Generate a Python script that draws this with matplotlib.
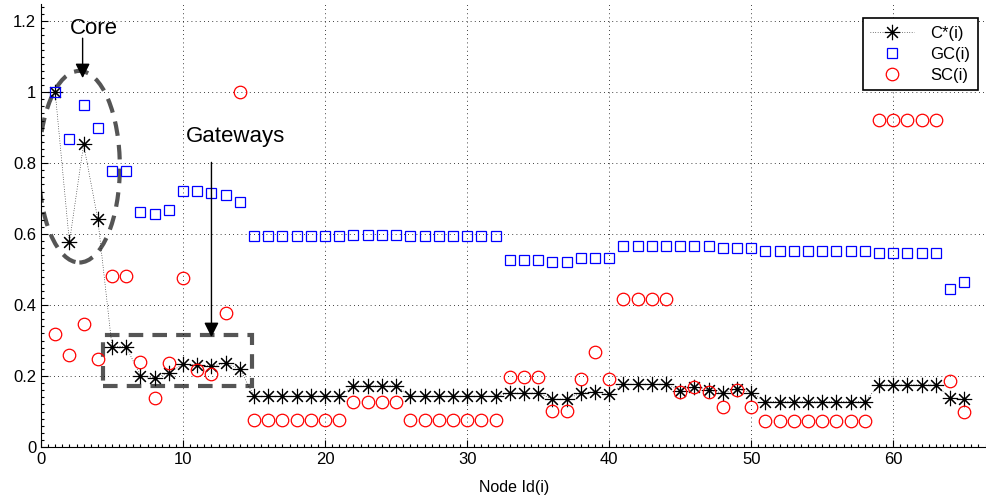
import matplotlib
matplotlib.use("Agg")
import matplotlib.pyplot as plt
from matplotlib.patches import Ellipse, Rectangle
from matplotlib.ticker import MultipleLocator

plt.rcParams['font.family'] = ['Liberation Sans', 'DejaVu Sans']

# node ids
nodes = list(range(1, 66))

# C*(i)
c_star = [1.0, 0.577, 0.853, 0.642, 0.283, 0.283, 0.200, 0.195, 0.208, 0.234,
          0.231, 0.228, 0.236, 0.220,
          0.143, 0.143, 0.143, 0.143, 0.143, 0.143, 0.143,
          0.172, 0.172, 0.172, 0.172,
          0.143, 0.143, 0.143, 0.143, 0.143, 0.143, 0.143,
          0.152, 0.152, 0.152, 0.135, 0.135, 0.152, 0.156, 0.149,
          0.177, 0.177, 0.177, 0.177, 0.159, 0.169, 0.161, 0.152, 0.163, 0.153,
          0.128, 0.128, 0.128, 0.128, 0.128, 0.128, 0.128, 0.128,
          0.175, 0.175, 0.175, 0.175, 0.175, 0.139, 0.134]

# GC(i)
gc = [1.0, 0.868, 0.964, 0.899, 0.779, 0.779, 0.662, 0.656, 0.668, 0.721,
      0.721, 0.716, 0.710, 0.691,
      0.594, 0.594, 0.594, 0.594, 0.594, 0.594, 0.594,
      0.597, 0.597, 0.597, 0.597,
      0.594, 0.594, 0.594, 0.594, 0.594, 0.594, 0.594,
      0.527, 0.527, 0.527, 0.522, 0.522, 0.533, 0.533, 0.533,
      0.567, 0.567, 0.567, 0.567, 0.567, 0.567, 0.567, 0.560, 0.560, 0.560,
      0.553, 0.553, 0.553, 0.553, 0.553, 0.553, 0.553, 0.553,
      0.548, 0.548, 0.548, 0.548, 0.548, 0.444, 0.466]

# SC(i)
sc = [0.318, 0.259, 0.348, 0.248, 0.483, 0.483, 0.240, 0.139, 0.236, 0.477,
      0.217, 0.205, 0.377, 1.0,
      0.076, 0.076, 0.076, 0.076, 0.076, 0.076, 0.076,
      0.126, 0.126, 0.126, 0.126,
      0.076, 0.076, 0.076, 0.076, 0.076, 0.076, 0.076,
      0.198, 0.198, 0.198, 0.101, 0.101, 0.192, 0.269, 0.192,
      0.416, 0.416, 0.416, 0.416, 0.154, 0.170, 0.154, 0.114, 0.161, 0.114,
      0.074, 0.074, 0.074, 0.074, 0.074, 0.074, 0.074, 0.074,
      0.921, 0.921, 0.921, 0.921, 0.921, 0.187, 0.099]

fig = plt.figure(figsize=(9.87, 4.99), dpi=100)
ax = fig.add_axes([41 / 987, 1 - 447 / 499, 946 / 987, 443.5 / 499])

ast = (8, 2, 0)
ax.plot(nodes, c_star, color='k', linestyle=(0, (1, 2.5)), linewidth=0.5,
        marker=ast, markersize=11, markeredgewidth=0.8, label='C*(i)')
ax.plot(nodes, gc, linestyle='none', marker='s', markersize=7.2,
        markerfacecolor='none', markeredgecolor='b', markeredgewidth=0.9,
        label='GC(i)')
ax.plot(nodes, sc, linestyle='none', marker='o', markersize=9,
        markerfacecolor='none', markeredgecolor='r', markeredgewidth=0.9,
        label='SC(i)')

# annotations
ax.add_patch(Ellipse((2.7, 0.79), 5.7, 0.54, fill=False, edgecolor='#555555',
                     linewidth=3, linestyle=(0, (3.5, 2.2))))
ax.add_patch(Rectangle((4.4, 0.172), 10.45, 0.143, fill=False,
                       edgecolor='#555555', linewidth=3,
                       linestyle=(0, (3.5, 2.2))))
ax.text(3.7, 1.18, 'Core', fontsize=16, ha='center', va='center')
ax.annotate('', xy=(2.93, 1.032), xytext=(2.93, 1.16),
            arrowprops=dict(arrowstyle='-|>', color='k', lw=1,
                            mutation_scale=22))
ax.text(13.7, 0.876, 'Gateways', fontsize=16, ha='center', va='center')
ax.annotate('', xy=(12.0, 0.302), xytext=(12.0, 0.81),
            arrowprops=dict(arrowstyle='-|>', color='k', lw=1,
                            mutation_scale=22))

ax.set_xlim(0, 66.6)
ax.set_ylim(0, 1.25)
ax.set_xticks([0, 10, 20, 30, 40, 50, 60])
ax.set_yticks([0, 0.2, 0.4, 0.6, 0.8, 1.0, 1.2])
ax.set_yticklabels(['0', '0.2', '0.4', '0.6', '0.8', '1', '1.2'])
ax.xaxis.set_minor_locator(MultipleLocator(0.5))
ax.yaxis.set_minor_locator(MultipleLocator(0.02))
ax.tick_params(which='both', direction='in', labelsize=12, width=0.8)
ax.tick_params(which='major', length=5)
ax.tick_params(which='minor', length=2)
ax.grid(True, which='major', linestyle=(0, (1, 4)), color='k', linewidth=0.6)
for s in ['top', 'right']:
    ax.spines[s].set_visible(False)
ax.set_xlabel('Node Id(i)', fontsize=11.5)
ax.xaxis.set_label_coords(0.5, -0.075)

leg = ax.legend(loc='upper right', bbox_to_anchor=(0.999, 0.985), fontsize=12,
                fancybox=False, edgecolor='k', framealpha=1,
                handlelength=2.6, borderpad=0.45, labelspacing=0.35,
                handletextpad=1.0)
leg.get_frame().set_linewidth(1.2)

fig.savefig('out.png', dpi=100)
